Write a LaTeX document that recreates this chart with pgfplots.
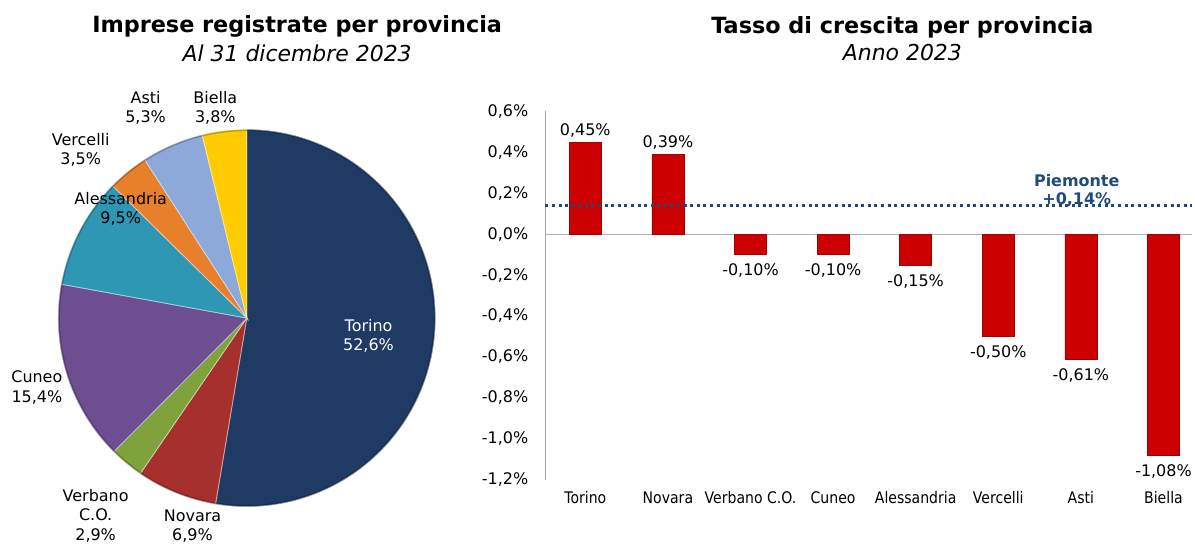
\documentclass[border=0pt]{standalone}
\usepackage{fontspec}
\setmainfont{DejaVu Sans}
\newfontfamily\condfont[FakeStretch=0.88]{DejaVu Sans}
\usepackage{pgfplots}
\pgfplotsset{compat=1.18}
\definecolor{torino}{HTML}{1F3B63}
\definecolor{novara}{HTML}{A5302D}
\definecolor{verbano}{HTML}{7FA23C}
\definecolor{cuneo}{HTML}{6C4E91}
\definecolor{alessandria}{HTML}{2E97B4}
\definecolor{vercelli}{HTML}{E77F2B}
\definecolor{asti}{HTML}{8CA9D9}
\definecolor{biella}{HTML}{FFCC00}
\definecolor{barred}{HTML}{CC0000}
\definecolor{piem}{HTML}{1F4A7E}
% start (cumulative %), value (%), colour
\newcommand\slice[3]{%
  \addplot[fill=#3, draw=white!55!#3, line width=0.8pt,
    domain={90-3.6036*(#1+#2)}:{90-3.6036*(#1)}, samples=90]
    ({cos(x)},{sin(x)}) -- (axis cs:0,0) -- cycle;
}
\begin{document}
\begin{tikzpicture}[x=1pt,y=1pt]
\path (0,0) rectangle (1195,545);
% titles
\node[font=\fontsize{22.4}{26}\selectfont\bfseries] at (298,518) {Imprese registrate per provincia};
\node[font=\fontsize{22}{26}\selectfont\itshape] at (298,492) {Al 31 dicembre 2023};
\node[font=\fontsize{22.4}{26}\selectfont\bfseries] at (905,518) {Tasso di crescita per provincia};
\node[font=\fontsize{22}{26}\selectfont\itshape] at (905,492) {Anno 2023};

% ---------- pie ----------
\begin{axis}[at={(247.5pt,226pt)}, anchor=center, width=378pt, height=378pt,
  scale only axis, xmin=-1, xmax=1, ymin=-1, ymax=1, hide axis, clip=false]
\slice{0}{52.6}{torino}
\slice{52.6}{6.9}{novara}
\slice{59.5}{2.9}{verbano}
\slice{62.4}{15.4}{cuneo}
\slice{77.8}{9.5}{alessandria}
\slice{87.3}{3.5}{vercelli}
\slice{90.8}{5.3}{asti}
\slice{96.1}{3.8}{biella}
\addplot[black, opacity=0.25, line width=1.5pt, domain=0:360, samples=180] ({0.996*cos(x)},{0.996*sin(x)});
\begin{scope}[every node/.style={align=center, font=\fontsize{16}{19.5}\selectfont, inner sep=0pt}]
\node[text=white] at (axis cs:0.646,-0.095) {Torino\\52,6\%};
\node at (axis cs:-0.288,-1.103) {Novara\\6,9\%};
\node at (axis cs:-0.802,-1.048) {Verbano\\C.O.\\2,9\%};
\node at (axis cs:-1.114,-0.368) {Cuneo\\15,4\%};
\node at (axis cs:-0.669,0.579) {Alessandria\\9,5\%};
\node at (axis cs:-0.881,0.892) {Vercelli\\3,5\%};
\node at (axis cs:-0.537,1.114) {Asti\\5,3\%};
\node at (axis cs:-0.167,1.114) {Biella\\3,8\%};
\end{scope}
\end{axis}

% ---------- bars ----------
\begin{axis}[at={(547pt,64pt)}, anchor=south west, width=648pt, height=369.3pt,
  scale only axis, xmin=-0.483, xmax=7.34, ymin=-1.2, ymax=0.6,
  axis lines*=left, x axis line style={draw=none},
  y axis line style={draw=gray!70, line width=0.8pt},
  tick style={draw=none}, major tick length=0pt,
  ytick={-1.2,-1.0,-0.8,-0.6,-0.4,-0.2,0,0.2,0.4,0.6},
  yticklabels={{-1,2\%},{-1,0\%},{-0,8\%},{-0,6\%},{-0,4\%},{-0,2\%},{0,0\%},{0,2\%},{0,4\%},{0,6\%}},
  yticklabel style={font=\fontsize{16}{19}\selectfont, anchor=east, inner sep=0pt, xshift=-17pt},
  xtick={0,1,2,3,4,5,6,7},
  xticklabels={Torino,Novara,Verbano C.O.,Cuneo,Alessandria,Vercelli,Asti,Biella},
  xticklabel style={font=\condfont\fontsize{16}{19}\selectfont, anchor=center, inner sep=0pt, yshift=-18pt},
  clip=false]
\addplot[gray!60, line width=0.8pt] coordinates {(-0.483,0) (7.34,0)};
\addplot[ybar, bar width=32pt, bar shift=0pt, fill=barred, draw=barred!80!black, line width=0.5pt,
  point meta=explicit symbolic, nodes near coords,
  nodes near coords style={font=\fontsize{16}{19}\selectfont, text=black, anchor=south, yshift=1pt}]
  coordinates {(0,0.45) [0,45\%] (1,0.39) [0,39\%]};
\addplot[ybar, bar width=32pt, bar shift=0pt, fill=barred, draw=barred!80!black, line width=0.5pt,
  point meta=explicit symbolic, nodes near coords,
  nodes near coords style={font=\fontsize{16}{19}\selectfont, text=black, anchor=north, yshift=-6pt}]
  coordinates {(2,-0.10) [-0,10\%] (3,-0.10) [-0,10\%]
               (4,-0.15) [-0,15\%] (5,-0.50) [-0,50\%] (6,-0.61) [-0,61\%] (7,-1.08) [-1,08\%]};
\addplot[piem, line width=3pt, dash pattern=on 3pt off 3.6pt] coordinates {(-0.483,0.14) (7.34,0.14)};
\node[align=center, text=piem, font=\fontsize{16}{18}\selectfont\bfseries] at (axis cs:5.95,0.214) {Piemonte\\+0,14\%};
\end{axis}
\end{tikzpicture}
\end{document}
